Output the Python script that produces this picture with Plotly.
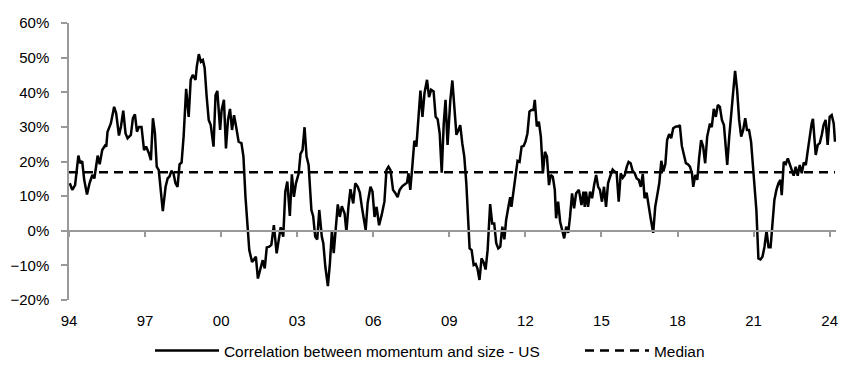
import plotly.graph_objects as go

dates = [
    1994.03, 1994.13, 1994.24, 1994.37, 1994.44, 1994.52, 1994.60, 1994.71, 1994.81, 1994.92,
    1995.00, 1995.13, 1995.21, 1995.31, 1995.42, 1995.47, 1995.52, 1995.65, 1995.78, 1995.86,
    1995.97, 1996.05, 1996.14, 1996.23, 1996.31, 1996.44, 1996.52, 1996.60, 1996.68, 1996.76,
    1996.86, 1996.96, 1997.04, 1997.15, 1997.23, 1997.31, 1997.39, 1997.46, 1997.54, 1997.62,
    1997.70, 1997.81, 1997.89, 1997.96, 1998.04, 1998.12, 1998.20, 1998.28, 1998.36, 1998.44,
    1998.52, 1998.62, 1998.72, 1998.80, 1998.88, 1998.99, 1999.04, 1999.12, 1999.20, 1999.28,
    1999.35, 1999.43, 1999.51, 1999.59, 1999.70, 1999.78, 1999.85, 1999.96, 2000.02, 2000.11,
    2000.19, 2000.27, 2000.35, 2000.43, 2000.51, 2000.59, 2000.69, 2000.80, 2000.88, 2000.96,
    2001.04, 2001.11, 2001.22, 2001.30, 2001.37, 2001.45, 2001.56, 2001.64, 2001.72, 2001.80,
    2001.90, 2001.98, 2002.08, 2002.19, 2002.27, 2002.35, 2002.45, 2002.53, 2002.61, 2002.71,
    2002.79, 2002.87, 2002.95, 2003.06, 2003.13, 2003.21, 2003.29, 2003.37, 2003.45, 2003.56,
    2003.63, 2003.71, 2003.79, 2003.87, 2003.97, 2004.03, 2004.11, 2004.21, 2004.29, 2004.37,
    2004.44, 2004.52, 2004.60, 2004.68, 2004.76, 2004.87, 2004.94, 2005.02, 2005.10, 2005.21,
    2005.29, 2005.39, 2005.47, 2005.55, 2005.63, 2005.70, 2005.78, 2005.89, 2005.97, 2006.05,
    2006.13, 2006.23, 2006.33, 2006.44, 2006.52, 2006.60, 2006.68, 2006.78, 2006.86, 2006.96,
    2007.04, 2007.15, 2007.26, 2007.33, 2007.39, 2007.46, 2007.54, 2007.62, 2007.70, 2007.78,
    2007.86, 2007.94, 2008.02, 2008.12, 2008.20, 2008.28, 2008.38, 2008.46, 2008.54, 2008.62,
    2008.70, 2008.78, 2008.85, 2008.93, 2009.04, 2009.12, 2009.20, 2009.28, 2009.35, 2009.43,
    2009.51, 2009.59, 2009.67, 2009.75, 2009.80, 2009.88, 2009.96, 2010.04, 2010.11, 2010.19,
    2010.27, 2010.35, 2010.43, 2010.51, 2010.61, 2010.69, 2010.77, 2010.85, 2010.93, 2011.01,
    2011.09, 2011.17, 2011.24, 2011.32, 2011.40, 2011.45, 2011.53, 2011.61, 2011.69, 2011.77,
    2011.85, 2011.93, 2012.00, 2012.08, 2012.16, 2012.24, 2012.32, 2012.37, 2012.45, 2012.53,
    2012.61, 2012.69, 2012.77, 2012.85, 2012.93, 2013.00, 2013.08, 2013.16, 2013.21, 2013.29,
    2013.37, 2013.45, 2013.53, 2013.61, 2013.69, 2013.76, 2013.84, 2013.92, 2014.00, 2014.11,
    2014.21, 2014.29, 2014.34, 2014.39, 2014.47, 2014.55, 2014.63, 2014.71, 2014.79, 2014.87,
    2014.94, 2015.02, 2015.10, 2015.18, 2015.26, 2015.34, 2015.44, 2015.52, 2015.60, 2015.68,
    2015.76, 2015.84, 2015.92, 2016.00, 2016.07, 2016.15, 2016.23, 2016.31, 2016.39, 2016.47,
    2016.55, 2016.63, 2016.70, 2016.78, 2016.86, 2016.94, 2017.04, 2017.12, 2017.20, 2017.28,
    2017.36, 2017.44, 2017.52, 2017.59, 2017.67, 2017.75, 2017.83, 2017.94, 2018.02, 2018.09,
    2018.17, 2018.25, 2018.33, 2018.41, 2018.49, 2018.57, 2018.62, 2018.70, 2018.78, 2018.85,
    2018.93, 2019.01, 2019.09, 2019.17, 2019.28, 2019.35, 2019.43, 2019.51, 2019.59, 2019.67,
    2019.75, 2019.83, 2019.88, 2019.96, 2020.04, 2020.11, 2020.19, 2020.27, 2020.35, 2020.43,
    2020.51, 2020.59, 2020.67, 2020.74, 2020.82, 2020.90, 2020.98, 2021.06, 2021.11, 2021.19,
    2021.27, 2021.35, 2021.43, 2021.51, 2021.59, 2021.67, 2021.74, 2021.82, 2021.90, 2021.98,
    2022.06, 2022.11, 2022.19, 2022.27, 2022.35, 2022.43, 2022.50, 2022.58, 2022.66, 2022.74,
    2022.82, 2022.90, 2022.98, 2023.06, 2023.13, 2023.21, 2023.29, 2023.34, 2023.45, 2023.53,
    2023.61, 2023.69, 2023.76, 2023.84, 2023.92, 2024.00, 2024.08, 2024.16, 2024.21,
]

# Correlation between momentum and size - US (%)
correlation = [
    13.7, 11.8, 13.2, 21.7, 19.5, 20.1, 14.7, 10.5, 13.7, 16.1,
    15.1, 21.7, 19.2, 23.3, 24.6, 24.3, 28.6, 31.0, 35.8, 33.9,
    27.5, 30.1, 34.7, 28.1, 26.7, 27.7, 32.5, 33.6, 28.6, 30.0,
    30.0, 23.3, 24.3, 22.4, 20.4, 32.5, 28.1, 18.5, 17.5, 12.3,
    5.7, 12.7, 15.1, 15.6, 17.3, 16.6, 13.7, 12.7, 19.2, 19.7,
    27.2, 41.0, 32.9, 43.6, 45.0, 43.6, 47.4, 51.0, 48.8, 49.3,
    47.0, 38.7, 32.0, 30.5, 24.3, 39.2, 40.4, 29.1, 34.9, 37.8,
    23.8, 32.0, 35.2, 29.1, 33.4, 30.1, 25.7, 25.3, 21.4, 9.8,
    0.2, -5.6, -9.0, -8.0, -7.5, -13.8, -10.4, -8.5, -10.9, -4.8,
    -4.6, -4.1, 1.6, -6.5, -2.7, 1.0, -1.7, 11.3, 14.2, 4.3,
    16.3, 9.8, 13.7, 16.6, 22.2, 23.3, 29.9, 21.4, 19.0, 6.0,
    4.2, -1.7, -2.5, 6.0, -1.7, -3.6, -10.4, -16.0, -9.4, 0.2,
    -6.5, 1.6, 7.6, 4.0, 7.1, 5.0, -0.3, 6.9, 12.0, 7.9,
    13.7, 12.7, 11.0, 6.9, 3.1, 0.2, 8.1, 12.7, 11.3, 4.0,
    6.9, 1.6, 4.5, 8.4, 17.5, 18.5, 17.5, 11.8, 11.0, 9.7,
    11.8, 12.9, 13.5, 13.9, 16.6, 11.8, 18.5, 26.0, 24.3, 32.0,
    40.5, 32.9, 39.7, 43.6, 38.6, 40.7, 40.2, 32.9, 32.2, 28.1,
    16.8, 31.0, 37.8, 24.8, 37.8, 43.4, 33.9, 27.7, 28.9, 30.5,
    25.3, 21.4, 13.7, 4.0, -5.1, -5.6, -9.9, -9.6, -10.9, -14.2,
    -8.0, -9.1, -11.2, -5.6, 7.7, 2.1, 2.1, -3.6, -5.1, -4.6,
    1.2, -2.5, 3.1, 6.5, 9.7, 6.9, 11.0, 16.6, 20.2, 19.9,
    24.3, 24.5, 25.7, 28.1, 34.4, 34.9, 34.9, 37.8, 30.1, 31.5,
    27.2, 16.6, 22.8, 21.4, 13.2, 16.1, 15.6, 11.8, 3.6, 8.4,
    2.6, 0.2, -2.2, 1.2, -0.6, 4.0, 10.8, 6.5, 10.8, 11.8,
    7.4, 11.3, 6.9, 11.3, 6.9, 11.3, 9.4, 13.2, 16.1, 12.7,
    11.8, 8.4, 12.7, 6.9, 13.7, 15.6, 17.7, 17.1, 16.6, 8.4,
    16.6, 15.3, 16.1, 18.5, 19.9, 19.5, 17.3, 16.6, 15.1, 14.7,
    12.7, 16.4, 9.4, 11.0, 6.9, 3.6, -0.6, 6.9, 10.3, 13.7,
    20.2, 17.1, 19.3, 26.2, 27.9, 26.7, 29.6, 30.1, 30.1, 30.5,
    24.5, 21.9, 19.5, 19.2, 18.5, 16.6, 12.7, 16.1, 14.7, 20.9,
    26.2, 24.3, 19.5, 27.2, 31.0, 29.9, 35.2, 32.9, 36.3, 35.8,
    32.0, 30.5, 26.2, 19.0, 27.2, 33.9, 39.7, 46.2, 40.7, 32.0,
    27.2, 29.1, 32.5, 29.1, 29.1, 25.7, 18.5, 11.8, 6.0, -8.0,
    -8.3, -7.5, -4.6, 0.0, -4.8, -4.8, 1.2, 8.9, 11.8, 13.7,
    14.7, 10.3, 19.9, 19.3, 20.9, 19.0, 17.5, 15.9, 18.5, 15.9,
    19.0, 16.6, 19.7, 19.0, 22.8, 27.7, 31.0, 32.3, 21.9, 24.8,
    25.3, 27.7, 30.5, 32.0, 24.8, 32.9, 33.4, 31.0, 25.7,
]

median_value = 16.9

tick_years = [1994, 1997, 2000, 2003, 2006, 2009, 2012, 2015, 2018, 2021, 2024]
tick_labels = ["94", "97", "00", "03", "06", "09", "12", "15", "18", "21", "24"]

FONT = "Liberation Sans Narrow, Arial Narrow, Liberation Sans, Arial, sans-serif"
GREY = "#999999"
X_RANGE = [1994, 2024.25]
FS = 15
LEG_FS = 15.4

fig = go.Figure()
fig.add_trace(go.Scatter(
    x=dates, y=correlation, mode="lines",
    name="Correlation between momentum and size - US",
    line=dict(color="black", width=2.5), legend="legend",
))
fig.add_trace(go.Scatter(
    x=[dates[0] - 0.03, dates[-1]], y=[median_value, median_value], mode="lines",
    name="Median", xaxis="x2", legend="legend2",
    line=dict(color="black", width=2.5, dash="9px,6px"),
))

legend_common = dict(
    orientation="h", xref="container", yref="container",
    xanchor="left", yanchor="middle", y=1 - 343 / 379,
    font=dict(family=FONT, size=LEG_FS, color="black"),
    itemwidth=64, bgcolor="rgba(0,0,0,0)",
)

fig.update_layout(
    width=852, height=379,
    margin=dict(l=61, r=24, t=15, b=87, autoexpand=False),
    paper_bgcolor="white", plot_bgcolor="white",
    font=dict(family=FONT, size=FS, color="black"),
    showlegend=True,
    legend=dict(legend_common, x=142 / 852),
    legend2=dict(legend_common, x=572 / 852),
    xaxis=dict(
        range=X_RANGE, tickvals=tick_years, ticktext=tick_labels,
        showline=False, showgrid=False, zeroline=False, ticks="",
        ticklabelstandoff=10, automargin=False,
    ),
    xaxis2=dict(
        range=X_RANGE, overlaying="x", anchor="free", position=0.25,
        tickvals=tick_years, showticklabels=False,
        showline=True, linecolor=GREY, linewidth=1.5,
        ticks="outside", ticklen=5, tickcolor=GREY, tickwidth=1.5,
        showgrid=False, zeroline=False, automargin=False,
    ),
    yaxis=dict(
        range=[-20, 60], dtick=10, ticksuffix="%",
        showline=True, linecolor=GREY, linewidth=1.5,
        ticks="outside", ticklen=6, tickcolor=GREY, tickwidth=1.5,
        showgrid=False, zeroline=False, ticklabelstandoff=9, automargin=False,
    ),
)

fig.write_html("out.html")
